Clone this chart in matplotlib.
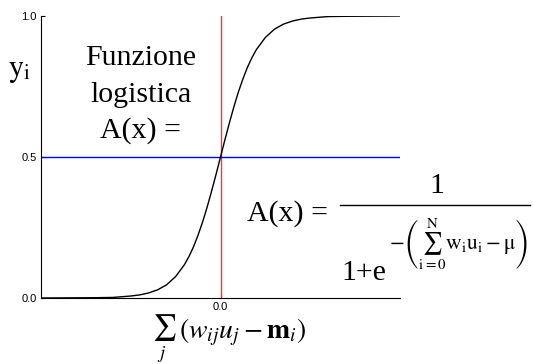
import matplotlib
matplotlib.use('Agg')
import matplotlib.pyplot as plt
from matplotlib.lines import Line2D

plt.rcParams['mathtext.fontset'] = 'stix'
plt.rcParams['font.family'] = 'Liberation Sans'

# curve points
x_vals = [-10, -7, -6, -5, -4.5, -4, -3.5, -3, -2.5, -2, -1.75, -1.5, -1.25,
          -1, -0.75, -0.5, -0.25, 0, 0.25, 0.5, 0.75, 1, 1.25, 1.5, 1.75,
          2, 2.5, 3, 3.5, 4, 4.5, 5, 6, 7, 10]
y_vals = [0.0, 0.001, 0.002, 0.007, 0.011, 0.018, 0.029, 0.047, 0.076, 0.119,
          0.148, 0.182, 0.223, 0.269, 0.321, 0.378, 0.438, 0.5, 0.562, 0.622,
          0.679, 0.731, 0.777, 0.818, 0.852, 0.881, 0.924, 0.953, 0.971,
          0.982, 0.989, 0.993, 0.998, 0.999, 1.0]

y_ticks = [0.0, 0.5, 1.0]
y_tick_labels = ['0.0', '0.5', '1.0']
x_ticks = [0.0]
x_tick_labels = ['0.0']
threshold = 0.0
half = 0.5

W, H = 533, 364
fig = plt.figure(figsize=(W / 100, H / 100), dpi=100)
ax = fig.add_axes([41 / W, 66 / H, 359 / W, 282 / H])

ax.axvline(threshold, color='#ff3030', linewidth=1.0)
ax.axhline(half, color='#0000ff', linewidth=1.0)
ax.plot(x_vals, y_vals, color='black', linewidth=1.0)

ax.set_xlim(-10, 10)
ax.set_ylim(0, 1)
ax.spines['top'].set_visible(False)
ax.spines['right'].set_visible(False)
ax.set_yticks(y_ticks)
ax.set_yticklabels(y_tick_labels)
ax.set_xticks(x_ticks)
ax.set_xticklabels(x_tick_labels)
ax.tick_params(direction='in', length=3, labelsize=8, pad=3)


def fx(px):
    return px / W


def fy(py):
    return 1 - py / H


serif = 'Liberation Serif'
fs = 21.5

# left annotation
fig.text(fx(141), fy(65), 'Funzione', family=serif, fontsize=fs, ha='center', va='baseline')
fig.text(fx(141), fy(102), 'logistica', family=serif, fontsize=fs, ha='center', va='baseline')
fig.text(fx(141), fy(138), 'A(x) =', family=serif, fontsize=fs, ha='center', va='baseline')
fig.text(fx(8), fy(76), r'$\mathrm{y}_\mathrm{i}$', fontsize=fs, ha='left', va='baseline')

# right formula
fig.text(fx(247), fy(221), 'A(x) =', family=serif, fontsize=fs, ha='left', va='baseline')
fig.text(fx(437), fy(193), '1', family=serif, fontsize=fs, ha='center', va='baseline')
fig.add_artist(Line2D([fx(340), fx(530)], [fy(205), fy(205)], color='black', linewidth=1.0))
fig.text(fx(341), fy(280), '1+e', family=serif, fontsize=fs, ha='left', va='baseline')
fig.text(fx(389), fy(244),
         r'$-\left(\sum_{\mathrm{i=0}}^{\mathrm{N}}\mathrm{w}_\mathrm{i}\mathrm{u}_\mathrm{i}-\mathrm{\mu}\right)$',
         fontsize=15.5, ha='left', va='center')

# x label: sum sign and bracket written as two pieces
fig.text(fx(164), fy(313), r'$\sum_j$', fontsize=19, ha='center', va='top')
fig.text(fx(179), fy(332), r'$\left(w_{ij}u_j - \mathbf{m}_i\right)$',
         fontsize=20, ha='left', va='center')

fig.savefig('out.png', dpi=100)
